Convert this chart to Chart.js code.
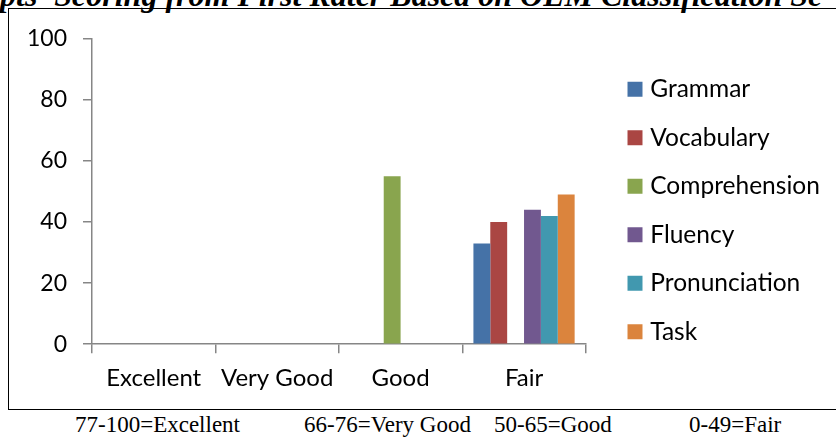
<!DOCTYPE html>
<html>
<head>
<meta charset="utf-8">
<script src="https://cdn.jsdelivr.net/npm/chart.js@4.4.1/dist/chart.umd.min.js"></script>
<style>
  html, body { margin: 0; padding: 0; background: #fff; overflow: hidden; }
  body { width: 836px; height: 440px; position: relative; }
  #title {
    position: absolute; left: 0; top: -21px; white-space: nowrap;
    font: italic bold 32px/32px "Liberation Serif", serif; color: #000;
  }
  #box {
    position: absolute; left: 8px; top: 8px; width: 840px; height: 402px;
    border: 1.5px solid #000; box-sizing: border-box;
  }
  #wrap { position: absolute; left: 9px; top: 9px; width: 827px; height: 401px; }
  .note {
    position: absolute; top: 413px; white-space: nowrap;
    font: 23px/24px "Liberation Serif", serif; color: #000;
  }
</style>
</head>
<body>
<div id="title">pts' Scoring from First Rater Based on OEM Classification Sc</div>
<div id="box"></div>
<div id="wrap"><canvas id="grafico"></canvas></div>
<div class="note" style="left:75px">77-100=Excellent</div>
<div class="note" style="left:304px">66-76=Very Good</div>
<div class="note" style="left:494px">50-65=Good</div>
<div class="note" style="left:689px">0-49=Fair</div>

<script>
const categorias = ['Excellent', 'Very Good', 'Good', 'Fair'];
const grammar = [0, 0, 0, 33];
const vocabulary = [0, 0, 0, 40];
const comprehension = [0, 0, 55, 0];
const fluency = [0, 0, 0, 44];
const pronunciation = [0, 0, 0, 42];
const task = [0, 0, 0, 49];
const yTicks = [0, 20, 40, 60, 80, 100];

const eixoCor = '#868686';

// move the legend to where excel puts it (and give it room so the text is not clipped)
const legendShift = {
  id: 'legendShift',
  afterLayout(chart) {
    const lg = chart.legend;
    lg.left = 599;
    lg.right = chart.width;
    lg.width = lg.right - lg.left;
    lg.top -= 6;
    lg.bottom -= 6;
  }
};

const ctx = document.getElementById('grafico').getContext('2d');

new Chart(ctx, {
  type: 'bar',
  data: {
    labels: categorias,
    datasets: [
      { label: 'Grammar', data: grammar, backgroundColor: '#4572A7' },
      { label: 'Vocabulary', data: vocabulary, backgroundColor: '#AA4643' },
      { label: 'Comprehension', data: comprehension, backgroundColor: '#89A54E' },
      { label: 'Fluency', data: fluency, backgroundColor: '#71588F' },
      { label: 'Pronunciation', data: pronunciation, backgroundColor: '#4198AF' },
      { label: 'Task', data: task, backgroundColor: '#DB843D' }
    ]
  },
  options: {
    responsive: true,
    maintainAspectRatio: false,
    animation: false,
    categoryPercentage: 0.82,
    barPercentage: 1,
    layout: { padding: { top: 20, right: 58, bottom: 6, left: 0 } },
    plugins: {
      legend: {
        position: 'right',
        labels: {
          usePointStyle: true,
          pointStyle: 'rect',
          boxWidth: 6,
          boxHeight: 15,
          padding: 24,
          color: '#000',
          font: { family: 'Lato', size: 24.5 }
        }
      },
      tooltip: { enabled: false }
    },
    scales: {
      x: {
        grid: { drawOnChartArea: false, tickLength: 9, color: eixoCor, lineWidth: 1.5 },
        border: { color: eixoCor, width: 1.5 },
        ticks: { color: '#000', font: { family: 'Lato', size: 24 }, padding: 11 }
      },
      y: {
        min: 0,
        max: 100,
        afterFit(scale) { scale.width = 83; },
        afterBuildTicks(scale) { scale.ticks = yTicks.map(v => ({ value: v })); },
        grid: { drawOnChartArea: false, tickLength: 9, color: eixoCor, lineWidth: 1.5 },
        border: { color: eixoCor, width: 1.5 },
        ticks: { color: '#000', font: { family: 'Lato', size: 23 }, padding: 16 }
      }
    }
  },
  plugins: [legendShift]
});
</script>
</body>
</html>
